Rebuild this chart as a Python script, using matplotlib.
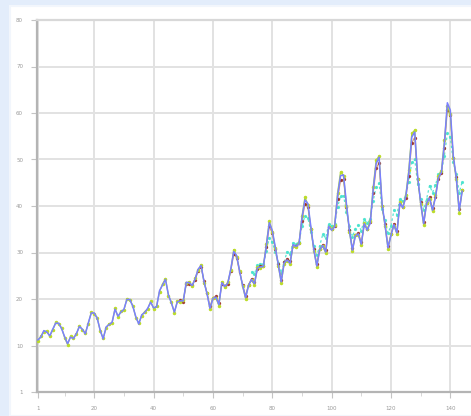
import matplotlib
matplotlib.use('Agg')
import matplotlib.pyplot as plt
from matplotlib.patches import Rectangle

# values (y units of the chart)
actual = [
    11.2, 11.8, 13.2, 12.9, 12.1, 13.5, 14.8, 14.8, 13.6, 11.9, 10.4, 11.8,
    11.5, 12.6, 14.1, 13.5, 12.5, 14.9, 17.0, 17.0, 15.8, 13.3, 11.4, 14.0,
    14.5, 15.0, 17.8, 16.3, 17.2, 17.8, 19.9, 19.9, 18.4, 16.2, 14.6, 16.6,
    17.1, 18.0, 19.3, 18.1, 18.3, 21.8, 23.0, 24.2, 20.9, 19.1, 17.2, 19.4,
    19.6, 19.6, 23.6, 23.5, 22.9, 24.3, 26.4, 27.2, 23.7, 21.1, 18.0, 20.1,
    20.4, 18.8, 23.5, 22.7, 23.4, 26.4, 30.2, 29.3, 25.9, 22.9, 20.3, 22.9,
    24.2, 23.3, 26.7, 26.9, 27.0, 31.5, 36.4, 34.7, 31.2, 27.4, 23.7, 27.8,
    28.4, 27.7, 31.7, 31.3, 31.8, 37.4, 41.3, 40.5, 35.5, 30.6, 27.1, 30.6,
    31.5, 30.1, 35.6, 34.8, 35.5, 42.2, 46.5, 46.7, 40.4, 34.7, 30.5, 33.6,
    34.0, 31.8, 36.2, 34.8, 36.3, 43.5, 49.1, 50.5, 40.4, 35.9, 31.0, 33.7,
    36.0, 34.2, 40.6, 39.6, 42.0, 47.2, 54.8, 55.9, 46.3, 40.7, 36.2, 40.5,
    41.7, 39.1, 41.9, 46.1, 47.2, 53.5, 62.2, 60.6, 50.8, 46.1, 39.0, 43.2,
]

fit_green = [
    11.0, 12.0, 13.0, 13.1, 12.0, 13.3, 15.0, 14.6, 13.8, 11.7, 10.2, 12.0,
    11.7, 12.4, 14.3, 13.3, 12.7, 14.7, 17.2, 16.8, 16.0, 13.1, 11.6, 13.8,
    14.7, 14.8, 18.0, 16.1, 17.4, 17.6, 20.1, 19.7, 18.6, 16.0, 14.8, 16.4,
    17.3, 17.8, 19.5, 17.9, 18.5, 21.6, 23.2, 24.4, 20.7, 19.3, 17.0, 19.6,
    19.4, 19.8, 23.4, 23.7, 22.7, 24.5, 26.2, 27.4, 23.5, 21.3, 17.8, 20.3,
    20.2, 18.6, 23.7, 22.5, 23.6, 26.2, 30.6, 29.1, 26.1, 22.7, 20.1, 23.1,
    24.0, 23.1, 26.9, 26.7, 27.2, 31.9, 36.8, 34.5, 31.0, 27.2, 23.5, 27.6,
    28.2, 27.5, 31.5, 31.1, 32.0, 37.8, 41.9, 40.3, 35.1, 30.4, 26.9, 30.8,
    31.3, 29.9, 35.4, 35.0, 35.9, 42.8, 47.3, 46.5, 40.0, 34.5, 30.3, 33.8,
    33.8, 31.6, 36.4, 35.0, 36.7, 44.1, 49.9, 50.7, 40.0, 35.7, 30.8, 33.9,
    35.8, 34.0, 40.8, 39.8, 42.4, 47.8, 55.6, 56.3, 45.9, 40.5, 36.0, 40.7,
    41.5, 38.9, 42.3, 46.5, 47.6, 54.1, 61.4, 59.8, 50.4, 45.7, 38.6, 43.4,
]

brown_start = 49
fit_brown = [
    19.8, 19.4, 23.2, 23.3, 23.1, 24.1, 26.0, 26.8, 23.9, 21.3, 18.4, 20.3,
    20.6, 19.2, 23.3, 22.9, 23.2, 26.0, 29.6, 28.9, 25.7, 23.1, 20.7, 23.1,
    24.4, 23.7, 26.5, 27.1, 27.2, 31.1, 35.6, 34.1, 30.8, 27.6, 24.1, 28.0,
    28.6, 28.1, 31.5, 31.5, 32.0, 36.8, 40.5, 39.7, 35.1, 30.8, 27.5, 30.8,
    31.7, 30.5, 35.4, 35.0, 35.7, 41.4, 45.5, 45.7, 39.8, 34.9, 30.9, 33.8,
    34.2, 32.2, 36.0, 35.0, 36.5, 42.7, 48.1, 49.3, 40.0, 36.1, 31.4, 33.9,
    36.2, 34.6, 40.4, 39.8, 41.8, 46.4, 53.6, 54.7, 45.9, 40.9, 36.6, 40.7,
    41.9, 39.5, 41.9, 45.9, 47.0, 52.5, 60.6, 59.6, 50.4, 46.3, 39.4, 43.4,
]

cyan_start = 73
fit_cyan = [
    25.9, 25.4, 27.4, 27.5, 27.6, 30.3, 33.2, 32.2, 30.1, 27.8, 25.6, 28.0,
    30.2, 29.7, 32.1, 31.9, 32.2, 35.6, 37.9, 37.4, 34.4, 31.5, 29.4, 31.5,
    33.9, 33.1, 36.1, 35.7, 36.1, 39.8, 42.1, 42.2, 38.8, 35.7, 33.4, 35.1,
    35.9, 34.7, 37.1, 36.3, 37.1, 41.1, 44.1, 44.9, 39.4, 36.9, 34.2, 35.7,
    39.1, 38.1, 41.6, 41.0, 42.4, 45.2, 49.4, 50.0, 44.7, 41.6, 39.2, 41.5,
    44.4, 42.9, 44.5, 46.8, 47.4, 50.8, 55.6, 54.8, 49.4, 46.8, 42.9, 45.2,
]

x_ticks = [1, 20, 40, 60, 80, 100, 120, 140]
y_ticks = [0, 10, 20, 30, 40, 50, 60, 70, 80]

W, H = 471, 416
fig = plt.figure(figsize=(W / 100, H / 100), dpi=100)
fig.patch.set_facecolor('#e3edfb')
fig.patches.append(Rectangle((10 / W, 0), 1, 1 - 6 / H, transform=fig.transFigure,
                             facecolor='white', edgecolor='#f2f6fc', lw=1.5, zorder=-5))

left, right = 37, 480
ax = fig.add_axes([left / W, (H - 392) / H, (right - left) / W, 372 / H])
ax.set_zorder(2)
ax.set_facecolor('white')

xs = list(range(1, len(actual) + 1))
xc = list(range(cyan_start, cyan_start + len(fit_cyan)))
ax.plot(xc, fit_cyan, color='#48e3cf', lw=0.9, ls=(0, (2, 2)), marker='o', ms=1.3,
        alpha=0.9, zorder=2)
xb = list(range(brown_start, brown_start + len(fit_brown)))
ax.plot(xb, fit_brown, color='#d08a4c', lw=0.8, marker='o', ms=1.4,
        mec='#9a2a20', mfc='#9a2a20', alpha=0.85, zorder=3)
ax.plot(xs, fit_green, color='#a8d43a', lw=0.9, marker='o', ms=1.5,
        mec='#bcdc2a', mfc='#bcdc2a', zorder=4)
ax.plot(xs, actual, color='#7a80ff', lw=1.1, zorder=5)

ax.set_xlim(0.7, 0.7 + (right - left) / 3.03)
ax.set_ylim(0, 80)
ax.set_xticks(x_ticks)
ax.set_xticks([10, 30, 50, 70, 90, 110, 130, 150], minor=True)
ax.set_yticks(y_ticks)
ax.set_yticklabels(['1'] + [str(v) for v in y_ticks[1:]])
ax.grid(True, color='#e2e2e2', lw=1.4)
ax.set_axisbelow(True)

for s in ['left', 'bottom', 'top']:
    ax.spines[s].set_color('#b4b4b4')
    ax.spines[s].set_linewidth(1.6)
ax.spines['top'].set_color('#d8d8d8')
ax.spines['right'].set_visible(False)

ax.tick_params(axis='both', which='major', labelsize=4, colors='#c4c4c4',
               labelcolor='#9a9a9a', length=4, width=0.8, pad=6)
ax.tick_params(axis='x', which='minor', length=3, width=0.6, colors='#d0d0d0')

fig.savefig('out.png', dpi=100)
